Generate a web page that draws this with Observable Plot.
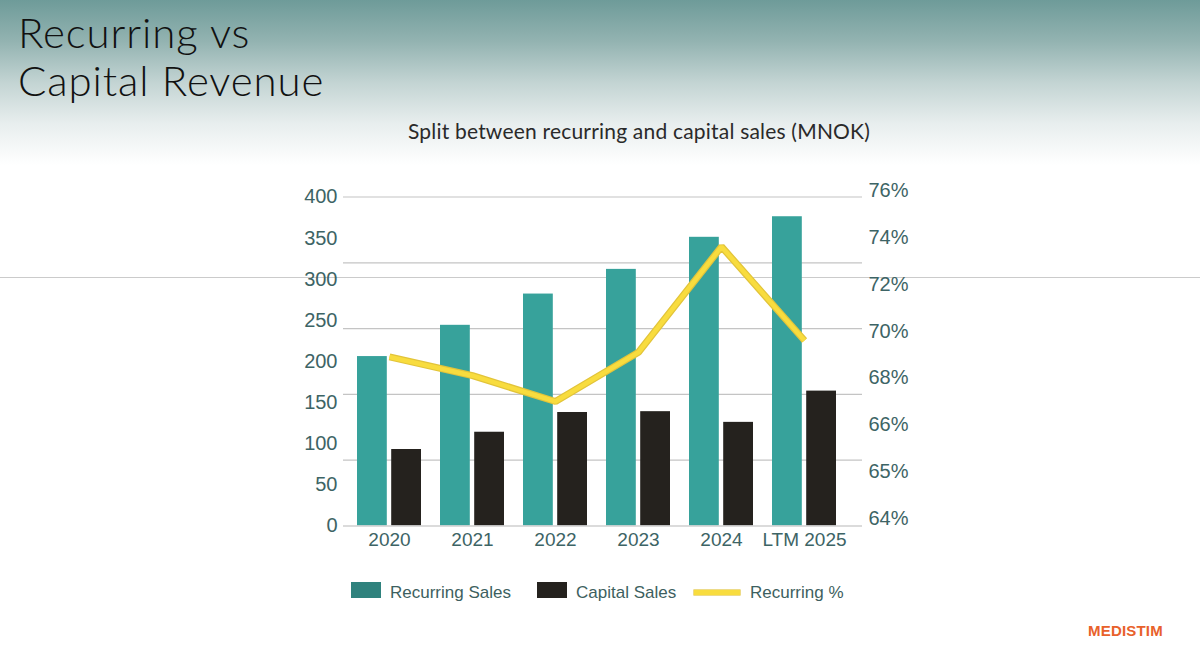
<!DOCTYPE html>
<html>
<head>
<meta charset="utf-8">
<script src="https://cdn.jsdelivr.net/npm/d3@7"></script>
<script src="https://cdn.jsdelivr.net/npm/@observablehq/plot@0.6"></script>
<style>
  html, body { margin: 0; padding: 0; width: 1200px; height: 647px; overflow: hidden; background: #fff; }
  #bg { position: absolute; left: 0; top: 0; width: 1200px; height: 165px;
        background: linear-gradient(to bottom, #6e9b99 0%, #93b3b1 25%, #c3d4d3 50%, #e8eeee 75%, #ffffff 100%); }
  #title { position: absolute; left: 18px; top: 8px; font-family: "Lato", "Noto Sans", sans-serif; font-weight: 300;
           font-size: 42px; letter-spacing: 0.9px; line-height: 48px; color: #111; }
  #subtitle { position: absolute; left: 0; width: 1278px; top: 118px; text-align: center;
              font-family: "Lato", "Noto Sans", sans-serif; font-size: 21px; letter-spacing: 0.2px; color: #2a2a2a; }
  #deco { position: absolute; left: 0; top: 277px; width: 1200px; height: 0; border-top: 1.5px solid #cbcbcb; }
  #chart { position: absolute; left: 0; top: 150px; }
  #legend { position: absolute; top: 582px; left: 0; font-family: "Liberation Sans", Arial, sans-serif; font-size: 17px; color: #3d5f60; }
  .sw { position: absolute; }
  .lab { position: absolute; top: 1px; white-space: nowrap; }
  #logo { position: absolute; left: 1088px; top: 622px; font-family: "Liberation Sans", Arial, sans-serif; font-weight: bold;
          font-size: 15px; letter-spacing: 0.2px; color: #e8612b; }
</style>
</head>
<body>
<div id="bg"></div>
<div id="deco"></div>
<div id="title">Recurring vs<br>Capital Revenue</div>
<div id="subtitle">Split between recurring and capital sales (MNOK)</div>
<div id="chart"></div>
<div id="legend"></div>
<div id="logo">MEDISTIM</div>
<script>
// ---- Data ----
const years = ["2020", "2021", "2022", "2023", "2024", "LTM 2025"];
const recurringSales = [206, 244, 282, 312, 351, 376];
const capitalSales = [93, 114, 138, 139, 126, 164];
const recurringPct = [68.9, 68.1, 67.0, 69.1, 73.6, 69.6];
const leftTicks = [0, 50, 100, 150, 200, 250, 300, 350, 400];
const gridTicks = [0, 80, 160, 240, 320, 400];
const pctTicks = [64, 65, 66, 68, 70, 72, 74, 76];
const seriesNames = ["Recurring Sales", "Capital Sales", "Recurring %"];

// ---- Colours ----
const teal = "#37a29b";
const dark = "#25221e";
const yellow = "#f8dc3e";
const axisColor = "#3d6465";

const data = years.map((year, i) => ({
  year, recurring: recurringSales[i], capital: capitalSales[i], pct: recurringPct[i]
}));

// Secondary (right) axis: labels are evenly spaced, mapped into primary units
const pctPos = d3.scaleLinear()
  .domain(pctTicks)
  .range(pctTicks.map((_, i) => 8.7 + i * (408.1 - 8.7) / (pctTicks.length - 1)));
const pctLabel = new Map(pctTicks.map(p => [pctPos(p), p + "%"]));

const W = 1200, H = 420;
const plot = Plot.plot({
  width: W,
  height: H,
  marginLeft: 343,
  marginRight: 338,
  marginTop: 46.5,
  marginBottom: 44.5,
  style: { fontFamily: "'Liberation Sans', Arial, sans-serif", fontSize: "20px", background: "transparent", overflow: "visible" },
  x: { type: "band", domain: years, paddingInner: 0.23, paddingOuter: 0.115, insetLeft: 3.3, insetRight: 15.3 },
  y: { domain: [0, 400] },
  marks: [
    Plot.ruleY(gridTicks.filter(d => d > 0), { stroke: "#c4c4c4", strokeWidth: 1.2 }),
    Plot.barY(data, { x: "year", y: "recurring", fill: teal, insetRight: 34.2 }),
    Plot.barY(data, { x: "year", y: "capital", fill: dark, insetLeft: 34.2 }),
    Plot.ruleY([0], { stroke: "#cfcfcf", strokeWidth: 1.5 }),
    Plot.line(data, { x: "year", y: d => pctPos(d.pct), stroke: "#e2c43a", strokeWidth: 7, strokeLinejoin: "miter", strokeLinecap: "butt" }),
    Plot.line(data, { x: "year", y: d => pctPos(d.pct), stroke: yellow, strokeWidth: 4.5, strokeLinejoin: "miter", strokeLinecap: "butt" }),
    Plot.axisY(leftTicks, { anchor: "left", tickSize: 0, tickPadding: 6, color: axisColor, fontSize: 20, label: null }),
    Plot.axisY(pctTicks.map(p => pctPos(p)), { anchor: "right", tickSize: 0, tickPadding: 6, color: axisColor, fontSize: 20,
      tickFormat: v => pctLabel.get(v), label: null }),
    Plot.axisX({ anchor: "bottom", tickSize: 0, tickPadding: 6, color: axisColor, fontSize: 19, label: null })
  ]
});
document.getElementById("chart").appendChild(plot);

// ---- Legend ----
const legend = document.getElementById("legend");
const items = [
  { name: seriesNames[0], kind: "box", color: "#2f827d", x: 351 },
  { name: seriesNames[1], kind: "box", color: dark, x: 537 },
  { name: seriesNames[2], kind: "line", color: yellow, x: 694 }
];
items.forEach(it => {
  const sw = document.createElement("div");
  sw.className = "sw";
  sw.style.left = it.x + "px";
  if (it.kind === "box") {
    sw.style.top = "0px"; sw.style.width = "30px"; sw.style.height = "16px"; sw.style.background = it.color;
  } else {
    sw.style.top = "8px"; sw.style.width = "46px"; sw.style.height = "5px"; sw.style.background = it.color;
    sw.style.boxShadow = "0 0 0 0.6px #e2c43a";
  }
  legend.appendChild(sw);
  const lab = document.createElement("div");
  lab.className = "lab";
  lab.style.left = (it.x + (it.kind === "box" ? 39 : 56)) + "px";
  lab.textContent = it.name;
  legend.appendChild(lab);
});
</script>
</body>
</html>
